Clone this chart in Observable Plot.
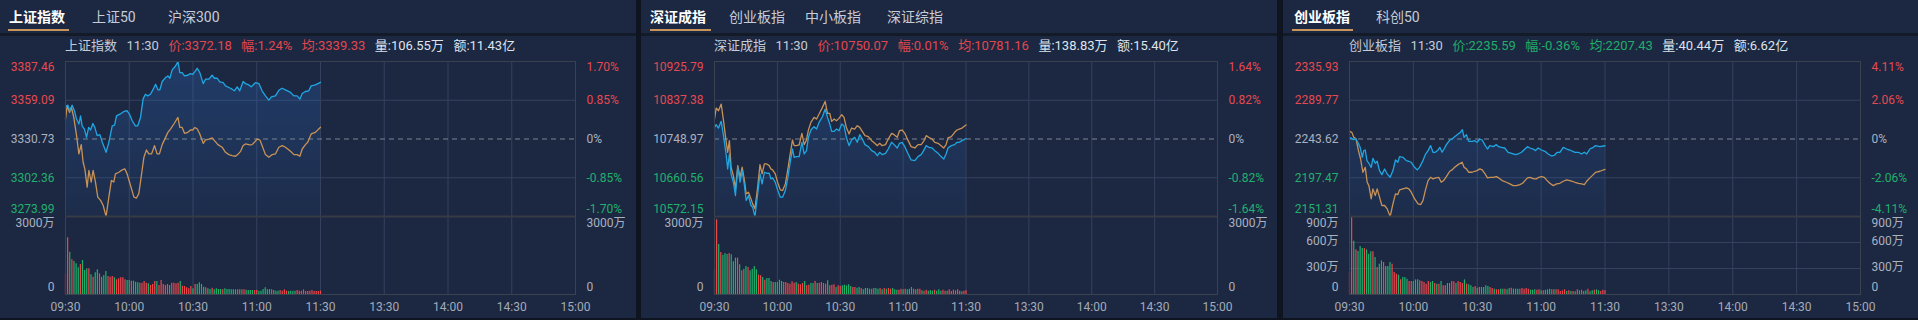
<!DOCTYPE html>
<html><head><meta charset="utf-8">
<script src="https://cdn.jsdelivr.net/npm/d3@7"></script>
<script src="https://cdn.jsdelivr.net/npm/@observablehq/plot@0.6"></script>
<style>
html,body{margin:0;padding:0;background:#0f1520;width:1918px;height:320px;overflow:hidden;font-family:Roboto,"Noto Sans CJK SC",sans-serif;}
.panel{position:absolute;top:0;height:318px;background:#1c2741;overflow:hidden}
.tab{position:absolute;top:8px;font-size:14px;color:#c6cdd8;line-height:18px;white-space:nowrap}
.tab.active{color:#ffffff;font-weight:bold}
.uline{position:absolute;top:29px;height:2px;width:61px;background:#c99459}
.sep{position:absolute;left:0;right:0;top:33px;height:3px;background:#131a28}
.info{position:absolute;top:37px;font-size:13px;line-height:18px;white-space:nowrap;color:#c5ccd8}
.info span{margin-right:9.5px}
.plot{position:absolute;left:0}
.plot svg{overflow:visible;background:transparent}
</style></head>
<body>
<script>
// ---------- shared axis data ----------
const timeTicks = [0, 30, 60, 90, 120, 150, 180, 210, 240];
const timeLabels = ["09:30","10:00","10:30","11:00","11:30","13:30","14:00","14:30","15:00"];

// ---------- panel 1: 上证指数 ----------
const p1Tabs = ["上证指数","上证50","沪深300"];
const p1Info = ["上证指数","11:30","价:3372.18","幅:1.24%","均:3339.33","量:106.55万","额:11.43亿"];
const p1PriceTicks = [3273.99, 3302.36, 3330.73, 3359.09, 3387.46];
const p1PctLabels = ["-1.70%","-0.85%","0%","0.85%","1.70%"];
const p1VolTicks = [0, 3000];
const p1VolLabels = ["0","3000万"];
const p1PriceT = [0,1.1,2,3.1,4.2,5.2,6.3,7.1,7.8,8.9,9.9,10.9,11.8,12.9,13.8,14.9,16.2,17.3,19.1,20.4,22,23.1,24,25.6,27.5,29,30.1,31.4,32.9,34,35.3,36.5,37.6,38.7,40,41.3,42.4,43.5,44.4,45.5,47.1,48.2,49.1,50.2,51.8,52.9,53.8,54.9,56,57.6,58.8,59.9,60.9,62,63.2,64.8,65.9,67.5,69,70.1,71.4,72.6,74.2,75.3,76.9,78.4,79.5,80.8,82,83.6,84.7,86.3,87.4,88.3,89.4,91,92.5,94.1,95.7,96.9,98.8,100.4,101.9,103.5,105.9,107.5,109,110.3,111.4,112.9,114.5,115.6,117.6,120];
const p1Price = [3354.5,3355.5,3351.4,3355.5,3351.4,3345.3,3341.7,3347.7,3340.4,3338.0,3331.9,3339.2,3337.3,3342.1,3339.2,3333.2,3333.9,3328.3,3321.0,3328.3,3340.4,3340.9,3347.7,3348.9,3350.9,3351.4,3348.9,3344.1,3340.4,3340.4,3346.5,3359.9,3363.5,3362.3,3363.5,3367.2,3370.8,3366.7,3366.7,3372.8,3375.7,3376.9,3375.2,3381.3,3384.2,3387.3,3379.3,3379.3,3376.9,3377.4,3378.6,3378.1,3380.0,3382.5,3379.3,3371.3,3374.5,3374.5,3377.4,3375.2,3375.2,3372.5,3372.0,3369.6,3368.4,3367.2,3366.0,3368.9,3366.0,3372.8,3371.3,3370.3,3368.9,3370.3,3372.0,3371.3,3366.0,3362.3,3359.2,3361.6,3362.3,3366.4,3367.9,3366.7,3364.8,3362.3,3362.3,3359.9,3364.0,3365.5,3366.0,3369.6,3370.3,3372.18];
const p1AvgT = [0,0.8,1.9,2.8,3.9,5.2,6.3,7.4,8.3,9.1,10.2,11,12.1,13,14.1,15.2,16.5,17.7,19.1,20.4,21.6,22.7,23.5,25.1,26.7,27.9,29,30.6,32.2,33.4,34.5,35.6,36.9,38.1,39.2,40.5,41.9,43.1,44.2,45.5,47.1,48.2,49.4,51,52.9,53.8,54.9,56,57.6,58.8,59.9,60.9,62,63.2,64.8,65.9,67.5,69,70.1,71.7,73.7,75.3,76.9,78.4,80,81.3,82.4,83.6,84.7,86.7,87.8,88.9,90.2,91.5,92.5,94.1,95.7,97.3,98.8,100.4,102,103.5,105.9,107.5,109,110.3,111.4,112.9,114,115.6,117.6,120];
const p1Avg = [3345.3,3355.0,3350.2,3353.8,3346.5,3333.2,3319.8,3326.6,3313.7,3308.9,3295.5,3307.7,3299.2,3307.7,3299.2,3288.2,3285.8,3282.2,3274.1,3288.2,3300.4,3299.2,3305.2,3306.4,3308.1,3308.9,3305.2,3296.7,3288.2,3287.5,3290.7,3302.8,3317.4,3322.7,3319.8,3319.8,3325.9,3319.8,3319.8,3326.6,3331.9,3335.6,3338.0,3341.7,3346.5,3339.2,3339.2,3334.9,3335.6,3337.3,3337.3,3339.2,3338.0,3334.4,3327.6,3330.0,3330.7,3331.5,3329.5,3326.6,3324.7,3321.0,3319.3,3318.6,3318.1,3319.8,3321.7,3325.9,3327.1,3326.4,3326.6,3328.3,3330.7,3330.0,3325.9,3319.3,3317.4,3319.3,3319.8,3324.7,3325.9,3324.7,3321.7,3319.3,3319.3,3318.1,3323.4,3326.6,3328.3,3334.4,3335.6,3339.33];
const p1Vol = [795,2180,1628,1333,1269,1179,1026,1154,1308,923,987,987,756,667,833,949,795,667,731,885,692,667,692,641,564,603,641,641,564,538,538,513,513,474,449,436,436,500,436,410,346,385,500,500,346,538,385,346,385,346,436,436,410,436,500,321,308,256,218,308,218,385,385,449,385,282,256,218,192,244,179,218,192,192,179,218,192,192,179,179,179,179,179,179,179,167,154,154,154,154,154,128,128,192,256,179,192,179,154,128,128,154,128,179,128,115,128,128,128,154,128,128,179,115,115,128,154,115,115,115,128];
const p1Dir = "RRGRGGGRGGGRGRGGRGGGRRRGRRRRRGGRGGGRRRRGRRRGRRRRRGRRRRGRRRRRGRGGGGRGGRGGGGRGGGGGGRGRRGGGGRRGGGGGGRGGGRRRRGGGGRRRRRRRRRRRR";

// ---------- panel 2: 深证成指 ----------
const p2Tabs = ["深证成指","创业板指","中小板指","深证综指"];
const p2Info = ["深证成指","11:30","价:10750.07","幅:0.01%","均:10781.16","量:138.83万","额:15.40亿"];
const p2PriceTicks = [10572.15, 10660.56, 10748.97, 10837.38, 10925.79];
const p2PctLabels = ["-1.64%","-0.82%","0%","0.82%","1.64%"];
const p2VolTicks = [0, 3000];
const p2VolLabels = ["0","3000万"];
const p2T = [0,0.8,1.9,3.2,4.3,5.5,6.3,7.1,7.9,9,10,11.1,12.2,13.2,14.3,15.1,16.2,17.4,18.2,19.3,20.6,21.7,22.7,23.8,24.9,26.1,26.9,27.7,29,30.1,31.4,32.5,33.8,34.9,36,37.2,38,39.1,40.4,41.7,42.8,43.9,44.8,46,47.5,48.7,49.9,51.5,52.8,53.9,55,55.9,57.1,58.2,59.4,60.7,61.8,62.9,64.2,65.4,66.9,68.1,69.3,70.5,71.8,73.4,75,76.5,77.7,78.8,80,81.6,82.9,84.5,85.7,87.2,88.3,89.5,90.8,92.4,93.8,95.6,97.1,98.6,99.8,101,102.2,103.8,105.1,106.7,108.1,109.4,110.5,111.4,113,114.6,115.7,116.8,118.1,120];
const p2Price = [10775.5,10781.6,10774.0,10789.2,10756.6,10714.8,10680.7,10714.8,10669.3,10650.3,10620.0,10684.5,10650.3,10676.9,10642.8,10608.6,10620.0,10597.2,10593.4,10572.2,10623.8,10669.3,10646.5,10673.1,10670.8,10670.8,10657.9,10660.2,10650.3,10632.9,10616.2,10616.2,10631.4,10657.9,10692.1,10726.2,10707.3,10708.8,10708.8,10741.4,10714.8,10722.4,10752.8,10769.5,10777.1,10771.7,10786.9,10799.8,10817.3,10798.3,10783.1,10766.4,10766.4,10771.7,10767.9,10783.1,10779.3,10752.8,10733.8,10746.7,10752.8,10741.4,10758.8,10749.0,10736.1,10731.5,10722.4,10718.6,10711.0,10718.6,10713.3,10716.3,10726.2,10741.4,10736.1,10728.5,10739.1,10741.4,10731.5,10714.8,10701.2,10699.6,10708.8,10713.3,10722.4,10733.8,10730.0,10728.5,10722.4,10716.3,10708.8,10703.4,10714.8,10728.5,10733.8,10736.1,10741.4,10741.4,10745.2,10750.07];
const p2Avg = [10794.5,10819.6,10813.5,10828.7,10790.7,10745.2,10718.6,10745.2,10684.5,10665.5,10635.2,10688.3,10661.7,10684.5,10654.1,10623.8,10627.6,10612.4,10601.0,10589.6,10639.0,10690.6,10669.3,10692.1,10692.1,10688.3,10680.7,10678.4,10669.3,10650.3,10632.9,10631.4,10646.5,10676.9,10711.0,10746.7,10733.8,10733.8,10735.3,10761.9,10736.1,10746.7,10769.5,10786.9,10798.3,10794.5,10805.9,10821.1,10834.7,10807.4,10807.4,10789.2,10794.5,10790.7,10796.0,10804.4,10798.3,10775.5,10760.4,10774.0,10771.7,10779.3,10775.5,10766.4,10756.6,10754.3,10745.2,10739.1,10733.8,10739.1,10733.8,10736.1,10749.0,10761.9,10758.8,10752.8,10767.9,10769.5,10761.9,10745.2,10731.5,10728.5,10736.1,10736.1,10743.7,10756.6,10752.8,10749.0,10741.4,10739.1,10733.8,10728.5,10736.1,10751.3,10754.3,10764.2,10769.5,10771.7,10774.0,10781.16];
const p2Vol = [974,2872,1923,1615,1513,1577,1538,1577,1526,1256,1397,1397,1141,910,974,1077,1038,910,974,1077,949,744,718,654,551,615,615,500,462,462,462,551,500,462,462,423,397,487,436,462,397,372,423,500,333,359,423,423,500,423,436,462,423,397,526,333,359,372,269,333,308,333,359,333,372,308,269,269,244,269,231,179,231,231,205,205,231,231,205,231,179,231,205,231,205,231,179,167,167,205,179,205,179,205,269,205,179,205,205,141,128,167,128,141,128,167,128,179,128,167,128,128,179,115,167,141,179,128,103,128,141];
const p2Dir = "RRGRGGGRGGGRGRGGRGGGGRRGRGGGRGGGGRRRRRRGRRRGRRGGRGRRRRGRRRGRRGGGGGRRGGRGGGGRGGGRGRGRRGGGRRGRGGGRGRRGRRGGGRGGGRRGRRRRRGRRR";

// ---------- panel 3: 创业板指 ----------
const p3Tabs = ["创业板指","科创50"];
const p3Info = ["创业板指","11:30","价:2235.59","幅:-0.36%","均:2207.43","量:40.44万","额:6.62亿"];
const p3PriceTicks = [2151.31, 2197.47, 2243.62, 2289.77, 2335.93];
const p3PctLabels = ["-4.11%","-2.06%","0%","2.06%","4.11%"];
const p3VolTicks = [0, 300, 600, 900];
const p3VolLabels = ["0","300万","600万","900万"];
const p3PriceT = [0,0.8,1.9,2.8,3.9,5,6,6.7,7.4,8.2,9.1,10.2,11,12.1,13,14.1,15.2,16.5,17.7,19.1,20.4,21.6,22.7,23.5,25.1,26.7,27.9,29,30.6,31.8,32.9,34.5,35.6,36.9,38.1,39.2,40.3,41.6,42.4,43.5,44.4,45.5,47.1,48.2,49.4,51,52.1,53,53.8,54.9,56,57.6,58.8,59.9,61.2,62.3,63.5,64.8,65.9,67.5,69,70.1,71.4,72.9,74.5,76.1,78,79.2,80.8,82.4,83.6,84.7,86.3,87.4,88.6,90.2,91.8,93.3,94.9,96.2,97.6,98.8,100.4,102,103.5,105.9,107.5,109,110.3,111.4,112.9,114.5,115.6,117.6,120];
const p3Price = [2244.8,2244.8,2242.8,2244.4,2239.7,2233.7,2221.8,2229.8,2230.5,2217.9,2214.7,2209.9,2220.6,2214.7,2217.1,2206.0,2201.2,2207.9,2202.0,2198.0,2206.0,2218.6,2215.9,2222.6,2221.8,2217.9,2217.1,2215.9,2209.9,2206.8,2209.9,2217.9,2225.0,2229.8,2235.7,2227.8,2227.8,2230.5,2233.7,2227.8,2231.7,2236.9,2242.4,2243.6,2246.4,2249.6,2251.5,2254.7,2245.6,2248.8,2240.8,2240.8,2241.6,2239.7,2243.6,2242.4,2236.9,2231.7,2235.7,2234.5,2236.9,2234.5,2233.7,2232.9,2227.8,2226.6,2225.0,2225.8,2227.8,2231.7,2234.5,2232.9,2231.7,2229.8,2232.9,2230.5,2229.0,2225.8,2223.4,2224.2,2227.8,2227.8,2233.7,2231.7,2230.5,2227.8,2227.8,2225.8,2227.8,2225.8,2231.7,2233.7,2235.7,2234.5,2235.59];
const p3AvgT = [0,1.1,2,3.1,4.2,5.2,6.3,7.4,8.3,9.1,10.2,11,12.1,13,14.1,15.2,16.5,17.7,19.1,20.4,21.6,22.7,23.5,25.1,26.7,27.9,29,30.6,32.2,33.4,34.5,35.6,36.9,38.1,39.2,40.5,41.9,43.1,44.2,45.5,47.1,48.2,49.4,51,52.9,53.8,54.9,56,57.6,58.8,59.9,61.2,62.3,63.5,64.8,65.9,67.5,69,70.1,71.7,73.7,75.3,76.9,78.4,80,81.3,82.4,83.6,84.7,86.7,87.8,88.9,90.2,91.5,92.5,94.1,95.7,97.3,98.8,100.4,102,103.5,105.9,107.5,109,110.3,111.4,112.9,114.5,115.6,117.6,120];
const p3Avg = [2252.7,2251.5,2245.6,2243.6,2229.8,2219.8,2204.0,2209.9,2192.1,2188.1,2172.3,2184.2,2176.2,2184.2,2174.3,2164.4,2164.4,2160.4,2151.3,2166.3,2178.2,2177.4,2183.0,2184.2,2185.4,2184.2,2180.2,2172.3,2166.3,2165.5,2170.3,2182.2,2194.1,2198.0,2196.1,2197.3,2198.0,2192.1,2194.1,2198.8,2205.2,2206.8,2209.9,2213.1,2215.9,2209.9,2208.0,2204.0,2204.0,2205.2,2206.0,2208.0,2206.8,2202.8,2197.3,2198.0,2198.0,2198.8,2197.3,2194.1,2192.1,2190.1,2188.1,2188.1,2189.3,2190.9,2194.1,2197.3,2198.0,2196.1,2196.1,2198.0,2198.8,2198.0,2194.9,2190.9,2188.1,2190.1,2190.9,2193.3,2194.9,2194.1,2192.1,2190.9,2190.1,2189.3,2193.3,2197.3,2201.2,2204.0,2205.2,2207.43];
const p3Vol = [254,888,615,515,496,554,531,531,515,465,492,492,427,312,350,388,369,323,323,369,350,254,235,223,169,196,196,177,150,150,150,169,169,158,150,138,119,150,138,150,127,119,119,150,100,100,127,127,150,146,127,150,138,127,169,119,112,100,81,92,73,81,81,81,100,92,81,69,62,54,54,62,62,62,54,69,73,62,62,62,62,69,62,69,62,50,50,54,50,54,42,42,50,54,62,54,54,54,54,35,42,54,35,42,35,35,31,54,42,50,35,42,62,31,42,50,54,42,35,50,42];
const p3Dir = "RRGRGGGRGGGRGRGGRGGGRRRGRGGGRRGGGRRRRRGGRGRGRRGRRRGRRRGRGGGRGRGGGGRRGRRGGRGGRGGGRRRRRGGGRRGRGGGRGRRRRRGRGRGRGRGGRGGRGGRRR";

// ---------- style ----------
const UP = "#f0474b", DOWN = "#1fb26b";
const LBL_UP = "#e44a50", LBL_DOWN = "#22b06e", LBL_GREY = "#aab2c0";
const BLUE = "#1ea6e2", ORANGE = "#c89257";
const GRID = "#34425f", FRAME = "#3a414f";

function yAxisMarks(ticks, leftLabels, rightLabels, colors, dys) {
  const out = [];
  ticks.forEach((v, i) => {
    out.push(Plot.axisY([v], {anchor: "left", tickSize: 0, tickPadding: 11, color: colors[i], dy: dys[i], tickFormat: () => leftLabels[i], label: null}));
    out.push(Plot.axisY([v], {anchor: "right", tickSize: 0, tickPadding: 11, color: colors[i], dy: dys[i], tickFormat: () => rightLabels[i], label: null}));
  });
  return out;
}

function makePanel(c) {
  const el = document.createElement("div");
  el.className = "panel";
  el.style.left = c.left + "px";
  el.style.width = c.width + "px";
  document.body.appendChild(el);

  c.tabs.forEach((name, i) => {
    const d = document.createElement("div");
    d.className = "tab" + (i === 0 ? " active" : "");
    d.style.left = c.tabX[i] + "px";
    d.textContent = name;
    el.appendChild(d);
  });
  const ul = document.createElement("div"); ul.className = "uline"; ul.style.left = c.ulX + "px"; el.appendChild(ul);
  const sep = document.createElement("div"); sep.className = "sep"; el.appendChild(sep);

  const info = document.createElement("div");
  info.className = "info";
  info.style.left = c.ml + "px";
  c.info.forEach((txt, i) => {
    const s = document.createElement("span");
    s.textContent = txt;
    s.style.color = i < 2 ? "#c5ccd8" : i < 5 ? c.infoColor : "#dfe4ec";
    info.appendChild(s);
  });
  el.appendChild(info);

  const lo = c.priceTicks[0], base = c.priceTicks[2];
  const price = c.priceT.map((t, i) => ({t, v: c.price[i]}));
  const avg = c.avgT.map((t, i) => ({t, v: c.avg[i]}));
  const gid = "grad" + c.id;
  const PH = 160, PMT = 5;
  const priceColors = [LBL_DOWN, LBL_DOWN, LBL_GREY, LBL_UP, LBL_UP];
  const priceDy = [-7, 0, 0, 0, 6];

  const pricePlot = Plot.plot({
    width: c.width, height: PH,
    marginTop: PMT, marginBottom: 0, marginLeft: c.ml, marginRight: c.mr,
    style: {fontSize: "12px", fontFamily: "Roboto, 'Noto Sans CJK SC', sans-serif", background: "transparent", overflow: "visible"},
    x: {domain: [0, 240], axis: null},
    y: {domain: [c.priceTicks[0], c.priceTicks[4]], axis: null, label: null},
    marks: [
      () => {
        const defs = d3.create("svg:defs");
        const g = defs.append("linearGradient").attr("id", gid)
          .attr("gradientUnits", "userSpaceOnUse").attr("x1", 0).attr("x2", 0).attr("y1", PMT).attr("y2", PH);
        g.append("stop").attr("offset", "0%").attr("stop-color", "#2a66b6").attr("stop-opacity", 0.34);
        g.append("stop").attr("offset", "100%").attr("stop-color", "#2a66b6").attr("stop-opacity", 0.08);
        return defs.node();
      },
      Plot.ruleX(timeTicks.slice(1, -1), {stroke: GRID}),
      Plot.ruleY([c.priceTicks[1], c.priceTicks[3]], {stroke: GRID}),
      Plot.areaY(price, {x: "t", y1: lo, y2: "v", fill: `url(#${gid})`}),
      Plot.ruleY([base], {stroke: "#7c8493", strokeDasharray: "5,4"}),
      Plot.line(avg, {x: "t", y: "v", stroke: ORANGE, strokeWidth: 1.3}),
      Plot.line(price, {x: "t", y: "v", stroke: BLUE, strokeWidth: 1.3}),
      Plot.frame({stroke: FRAME}),
      ...yAxisMarks(c.priceTicks, c.priceTicks.map(d => d.toFixed(2)), c.pctLabels, priceColors, priceDy)
    ]
  });
  const pw = document.createElement("div"); pw.className = "plot"; pw.style.top = "56px"; pw.appendChild(pricePlot); el.appendChild(pw);

  const vmax = c.volTicks[c.volTicks.length - 1];
  const vol = c.vol.map((v, i) => ({t: i, v, col: c.dir[i] === "R" ? UP : DOWN}));
  const volDy = c.volTicks.map((d, i) => i === 0 ? -7 : i === c.volTicks.length - 1 ? 7 : -1.5);
  const volColors = c.volTicks.map(() => LBL_GREY);
  const volPlot = Plot.plot({
    width: c.width, height: 104,
    marginTop: 0, marginBottom: 26, marginLeft: c.ml, marginRight: c.mr,
    style: {fontSize: "12px", fontFamily: "Roboto, 'Noto Sans CJK SC', sans-serif", background: "transparent", overflow: "visible"},
    x: {domain: [0, 240], axis: null},
    y: {domain: [0, vmax], axis: null, label: null},
    color: {type: "identity"},
    marks: [
      Plot.ruleX(timeTicks.slice(1, -1), {stroke: GRID}),
      Plot.ruleY(c.volTicks.slice(1, -1), {stroke: GRID}),
      Plot.ruleX(vol, {x: "t", y1: 0, y2: "v", stroke: "col", strokeWidth: 1.2}),
      Plot.frame({stroke: FRAME}),
      Plot.ruleY([vmax], {stroke: "#363b45", strokeWidth: 2}),
      Plot.axisX(timeTicks, {anchor: "bottom", tickSize: 0, tickPadding: 8, color: "#a3abb8", tickFormat: d => timeLabels[timeTicks.indexOf(d)], label: null}),
      ...yAxisMarks(c.volTicks, c.volLabels, c.volLabels, volColors, volDy)
    ]
  });
  const vw = document.createElement("div"); vw.className = "plot"; vw.style.top = "216px"; vw.appendChild(volPlot); el.appendChild(vw);
}

makePanel({id: 1, left: 0, width: 636, ml: 65, mr: 61, tabs: p1Tabs, tabX: [9, 92, 168], ulX: 8,
  info: p1Info, infoColor: "#e2474d", priceTicks: p1PriceTicks, pctLabels: p1PctLabels,
  priceT: p1PriceT, price: p1Price, avgT: p1AvgT, avg: p1Avg,
  volTicks: p1VolTicks, volLabels: p1VolLabels, vol: p1Vol, dir: p1Dir});
makePanel({id: 2, left: 641, width: 636, ml: 73, mr: 60, tabs: p2Tabs, tabX: [9, 88, 164, 246], ulX: 9,
  info: p2Info, infoColor: "#e2474d", priceTicks: p2PriceTicks, pctLabels: p2PctLabels,
  priceT: p2T, price: p2Price, avgT: p2T, avg: p2Avg,
  volTicks: p2VolTicks, volLabels: p2VolLabels, vol: p2Vol, dir: p2Dir});
makePanel({id: 3, left: 1283, width: 635, ml: 66, mr: 58, tabs: p3Tabs, tabX: [11, 93], ulX: 9,
  info: p3Info, infoColor: "#21ad6b", priceTicks: p3PriceTicks, pctLabels: p3PctLabels,
  priceT: p3PriceT, price: p3Price, avgT: p3AvgT, avg: p3Avg,
  volTicks: p3VolTicks, volLabels: p3VolLabels, vol: p3Vol, dir: p3Dir});
</script>
</body></html>
